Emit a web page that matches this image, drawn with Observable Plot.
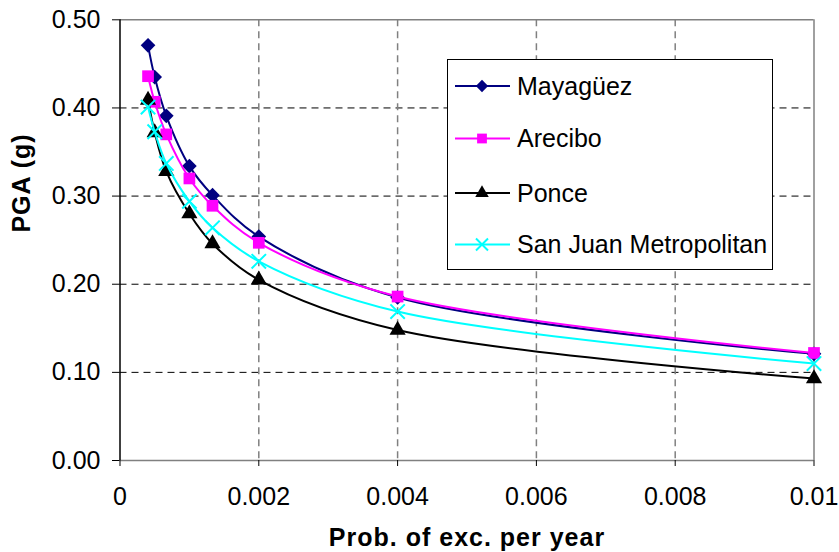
<!DOCTYPE html>
<html>
<head>
<meta charset="utf-8">
<script src="https://cdn.jsdelivr.net/npm/d3@7"></script>
<script src="https://cdn.jsdelivr.net/npm/@observablehq/plot@0.6"></script>
<style>
  html, body { margin: 0; padding: 0; background: white; }
  #chart { width: 839px; height: 552px; }
</style>
</head>
<body>
<div id="chart"></div>
<script>
// ---- data ----
const probExc = [0.000404, 0.0005, 0.000667, 0.001, 0.001333, 0.002, 0.004, 0.01];
const mayaguez = [0.471, 0.435, 0.391, 0.334, 0.301, 0.254, 0.185, 0.121];
const arecibo  = [0.436, 0.407, 0.370, 0.320, 0.289, 0.247, 0.186, 0.122];
const ponce    = [0.409, 0.372, 0.328, 0.280, 0.246, 0.205, 0.148, 0.093];
const sanJuan  = [0.401, 0.373, 0.337, 0.294, 0.264, 0.226, 0.169, 0.110];
const seriesNames = ["Mayagüez", "Arecibo", "Ponce", "San Juan Metropolitan"];
const xTicks = [0, 0.002, 0.004, 0.006, 0.008, 0.01];
const yTicks = [0, 0.1, 0.2, 0.3, 0.4, 0.5];
const xTitle = "Prob. of exc. per year";
const yTitle = "PGA (g)";

const seriesValues = [mayaguez, arecibo, ponce, sanJuan];
const styles = [
  {color: "#000080", symbol: "diamond2", r: 6.6, fill: "#000080", stroke: "none"},
  {color: "#FF00FF", symbol: "square", r: 6.6, fill: "#FF00FF", stroke: "none"},
  {color: "#000000", symbol: "triangle", r: 6.0, fill: "#000000", stroke: "none"},
  {color: "#00FFFF", symbol: "times", r: 6.6, fill: "none", stroke: "#00FFFF"}
];

const rows = seriesNames.map((name, i) =>
  probExc.map((p, j) => ({series: name, p, pga: seriesValues[i][j]}))
);

const FONT = "'Liberation Sans', Arial, sans-serif";
const xDomain = [xTicks[0], xTicks[xTicks.length - 1]];
const yDomain = [yTicks[0], yTicks[yTicks.length - 1]];

const seriesMarks = rows.flatMap((data, i) => {
  const s = styles[i];
  return [
    Plot.line(data, {x: "p", y: "pga", stroke: s.color, strokeWidth: 2, curve: "catmull-rom"}),
    Plot.dot(data, {x: "p", y: "pga", symbol: () => s.symbol, r: s.r,
      fill: s.fill, stroke: s.stroke, strokeWidth: s.stroke === "none" ? 0 : 2})
  ];
});

const plot = Plot.plot({
  width: 839,
  height: 552,
  marginLeft: 119.5,
  marginRight: 25.5,
  marginTop: 19.3,
  marginBottom: 92,
  style: {fontFamily: FONT, fontSize: "25px", background: "white", color: "black"},
  x: {domain: xDomain},
  y: {domain: yDomain},
  marks: [
    Plot.gridY(yTicks.filter(v => v > yDomain[0] && v < yDomain[1]),
      {stroke: "#000", strokeOpacity: 1, strokeWidth: 1, strokeDasharray: "7,5"}),
    Plot.gridX(xTicks.filter(v => v > xDomain[0] && v < xDomain[1]),
      {stroke: "#808080", strokeOpacity: 1, strokeWidth: 1.5, strokeDasharray: "7,5"}),
    Plot.ruleY([yDomain[1]], {stroke: "#808080", strokeWidth: 1.5}),
    Plot.ruleX([xDomain[1]], {stroke: "#808080", strokeWidth: 1.5}),
    Plot.ruleY([yDomain[0]], {stroke: "#808080", strokeWidth: 1.5}),
    Plot.ruleX([xDomain[0]], {stroke: "#000", strokeWidth: 1.5}),
    Plot.axisY(yTicks, {tickFormat: d => d.toFixed(2), tickSize: 7.5, tickPadding: 12,
      label: null, fontSize: 25, stroke: "#000"}),
    Plot.axisX(xTicks, {tickFormat: d => d === 0 ? "0" : String(+d.toFixed(3)), tickSize: 6,
      tickPadding: 20.5, label: null, fontSize: 25}),
    ...seriesMarks,
    Plot.text([xTitle], {frameAnchor: "bottom", dy: 77, text: d => d, fontWeight: "bold",
      fontSize: 25, lineAnchor: "middle"}),
    Plot.text([yTitle], {frameAnchor: "left", dx: -98.5, dy: -7.6, text: d => d, rotate: -90,
      fontWeight: "bold", fontSize: 25, lineAnchor: "middle"})
  ]
});

document.getElementById("chart").appendChild(plot);

// letter spacing on axis titles
d3.select(plot).selectAll("text").filter(function() {
  return this.textContent === xTitle || this.textContent === yTitle;
}).style("letter-spacing", "1px");

// ---- legend (inside plot area) ----
const svg = d3.select(plot);
const lg = svg.append("g").attr("font-family", FONT).attr("font-size", 25)
  .attr("text-anchor", "start");
lg.append("rect").attr("x", 447.5).attr("y", 59.5).attr("width", 325).attr("height", 210)
  .attr("fill", "white").attr("stroke", "black").attr("stroke-width", 1);
const legendY = [86, 138.5, 193, 244.5];
const symbolMap = {diamond2: d3.symbolDiamond2, square: d3.symbolSquare, triangle: d3.symbolTriangle, times: d3.symbolTimes};
seriesNames.forEach((name, i) => {
  const s = styles[i];
  const y = legendY[i];
  lg.append("line").attr("x1", 455).attr("x2", 510).attr("y1", y).attr("y2", y)
    .attr("stroke", s.color).attr("stroke-width", 2);
  const size = Math.PI * s.r * s.r * 0.7;
  lg.append("path").attr("d", d3.symbol(symbolMap[s.symbol], size)())
    .attr("transform", `translate(482,${y})`)
    .attr("fill", s.fill).attr("stroke", s.stroke).attr("stroke-width", s.stroke === "none" ? 0 : 2);
  lg.append("text").attr("x", 517).attr("y", y).attr("dy", "0.35em")
    .attr("text-anchor", "start").attr("fill", "black").text(name);
});
</script>
</body>
</html>
